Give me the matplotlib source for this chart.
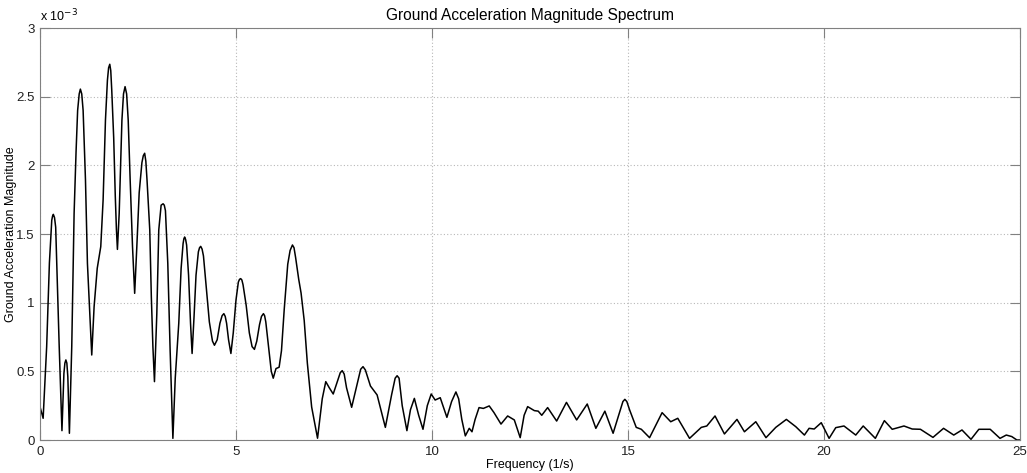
import matplotlib
matplotlib.use("Agg")
import matplotlib.pyplot as plt

# frequency (1/s) and magnitude (x 1e-3)
# low-frequency part, 0 - 7.1 Hz
freq_low = [0.00, 0.08, 0.17, 0.24, 0.30, 0.32, 0.34, 0.37, 0.40, 0.44, 0.49, 0.56,
            0.61, 0.635, 0.66, 0.685, 0.71, 0.75, 0.81, 0.87, 0.92, 0.96, 1.00, 1.03, 1.065, 1.10,
            1.16, 1.21, 1.27, 1.32, 1.38, 1.46, 1.55, 1.61, 1.67, 1.72, 1.75, 1.78, 1.805, 1.83,
            1.88, 1.92, 1.95, 1.975, 2.02, 2.09, 2.13, 2.17, 2.21, 2.25,
            2.30, 2.36, 2.415, 2.47, 2.53, 2.60, 2.635, 2.67, 2.70, 2.73, 2.80, 2.84, 2.88, 2.92,
            2.98, 3.03, 3.09, 3.14, 3.17, 3.20, 3.26, 3.32, 3.39,
            3.45, 3.54, 3.60, 3.65, 3.67, 3.69, 3.715, 3.74, 3.79, 3.84, 3.88, 3.93, 3.98, 4.04,
            4.07, 4.10, 4.135, 4.17, 4.24, 4.32, 4.40, 4.45, 4.52, 4.59, 4.645, 4.69, 4.725, 4.76,
            4.81, 4.87,
            4.93, 5.00, 5.06, 5.09, 5.12, 5.15, 5.18, 5.26, 5.34, 5.41, 5.47, 5.53, 5.60, 5.65,
            5.70, 5.73, 5.76, 5.83, 5.90, 5.95,
            6.02, 6.10, 6.16, 6.23, 6.32, 6.38, 6.44, 6.48, 6.52, 6.60, 6.66, 6.74, 6.82, 6.93, 7.08]
mag_low = [0.242, 0.158, 0.68, 1.29, 1.60, 1.63, 1.643, 1.62, 1.55, 1.165, 0.68, 0.068,
           0.485, 0.56, 0.583, 0.56, 0.46, 0.049, 0.68, 1.65, 2.10, 2.40, 2.52, 2.555, 2.52, 2.40,
           1.894, 1.286, 0.92, 0.619, 0.97, 1.25, 1.408, 1.748, 2.33, 2.62, 2.71, 2.736, 2.69, 2.55,
           2.20, 1.78, 1.53, 1.388, 1.65, 2.33, 2.52, 2.573, 2.52, 2.33,
           1.894, 1.408, 1.068, 1.408, 1.80, 2.02, 2.07, 2.088, 2.03, 1.894, 1.53, 1.044, 0.68, 0.425,
           0.92, 1.53, 1.71, 1.72, 1.71, 1.67, 1.286, 0.65, 0.012,
           0.45, 0.85, 1.25, 1.43, 1.465, 1.478, 1.46, 1.42, 1.20, 0.85, 0.63, 0.90, 1.20, 1.37,
           1.40, 1.41, 1.39, 1.34, 1.12, 0.86, 0.72, 0.69, 0.73, 0.85, 0.905, 0.92, 0.90, 0.85,
           0.73, 0.63,
           0.78, 1.02, 1.15, 1.17, 1.175, 1.165, 1.13, 0.98, 0.78, 0.68, 0.66, 0.72, 0.84, 0.90,
           0.92, 0.905, 0.86, 0.68, 0.50, 0.45,
           0.52, 0.53, 0.65, 0.95, 1.28, 1.38, 1.42, 1.40, 1.33, 1.17, 1.07, 0.87, 0.56, 0.24, 0.013]

# high-frequency part, 7.2 - 25 Hz
freq_high = [7.20, 7.29, 7.38, 7.48, 7.60, 7.66, 7.71, 7.76, 7.82, 7.95, 8.10, 8.18, 8.24, 8.30,
             8.43, 8.60, 8.81, 8.97, 9.06, 9.11, 9.16, 9.24, 9.36,
             9.45, 9.55, 9.66, 9.77, 9.88, 9.98, 10.08, 10.21, 10.38, 10.50, 10.61, 10.68, 10.76,
             10.85, 10.95, 11.02, 11.10, 11.20, 11.31, 11.46, 11.58, 11.76, 11.93, 12.10, 12.25,
             12.35, 12.44, 12.61, 12.71, 12.80, 12.95, 13.18, 13.43, 13.69, 13.96, 14.18, 14.41,
             14.62, 14.87, 14.92, 14.97, 15.04,
             15.21, 15.34, 15.55, 15.87, 16.09, 16.27, 16.57, 16.87, 17.01, 17.22,
             17.46, 17.78, 17.97, 18.26, 18.52, 18.77, 19.04, 19.28, 19.50, 19.62,
             19.75, 19.93, 20.13, 20.30, 20.51, 20.81, 21.00, 21.31, 21.54, 21.74,
             22.04, 22.25, 22.46, 22.78, 23.05, 23.31, 23.52, 23.75, 23.95, 24.24,
             24.49, 24.65, 24.79, 24.92, 25.00]
mag_high = [0.30, 0.425, 0.38, 0.335, 0.44, 0.49, 0.505, 0.48, 0.38, 0.238, 0.42, 0.515, 0.534, 0.51,
            0.393, 0.328, 0.092, 0.33, 0.45, 0.468, 0.45, 0.25, 0.068,
            0.22, 0.303, 0.18, 0.078, 0.25, 0.335, 0.291, 0.308, 0.165, 0.28, 0.35, 0.30, 0.15,
            0.03, 0.085, 0.06, 0.15, 0.236, 0.23, 0.248, 0.20, 0.116, 0.175, 0.146, 0.017,
            0.18, 0.243, 0.214, 0.21, 0.18, 0.236, 0.138, 0.274, 0.146, 0.262, 0.085, 0.21,
            0.049, 0.28, 0.296, 0.28, 0.22,
            0.092, 0.078, 0.017, 0.199, 0.133, 0.158, 0.012, 0.092, 0.102, 0.175,
            0.044, 0.15, 0.06, 0.133, 0.017, 0.092, 0.15, 0.097, 0.036, 0.085,
            0.08, 0.126, 0.012, 0.09, 0.102, 0.036, 0.102, 0.012, 0.141, 0.078,
            0.102, 0.08, 0.078, 0.019, 0.085, 0.036, 0.073, 0.005, 0.078, 0.078,
            0.012, 0.036, 0.025, 0.0, 0.0]

xticks = [0, 5, 10, 15, 20, 25]
yticks = [0, 0.5, 1, 1.5, 2, 2.5, 3]
ytick_labels = ["0", "0.5", "1", "1.5", "2", "2.5", "3"]

plt.rcParams['font.family'] = ['Liberation Sans', 'DejaVu Sans']

fig = plt.figure(figsize=(10.27, 4.73), dpi=100)
ax = fig.add_axes([40 / 1027, 33 / 473, 980 / 1027, 412 / 473])

ax.plot(freq_low + freq_high, mag_low + mag_high, color='black', lw=1.1)

ax.set_xlim(0, 25)
ax.set_ylim(0, 3)
ax.set_xticks(xticks)
ax.set_yticks(yticks)
ax.set_yticklabels(ytick_labels)

ax.grid(True, color='#b8b8b8', linestyle=(0, (1, 2)), lw=0.8)
ax.tick_params(direction='in', length=7, width=0.8, color='#808080',
               labelsize=9.5, labelcolor='#202020', top=True, right=True,
               pad=4)
for sp in ax.spines.values():
    sp.set_color('#808080')
    sp.set_linewidth(0.8)

ax.set_title('Ground Acceleration Magnitude Spectrum', fontsize=11.2, pad=6)
ax.set_xlabel('Frequency (1/s)', fontsize=9, labelpad=1)
ax.set_ylabel('Ground Acceleration Magnitude', fontsize=9)
ax.yaxis.set_label_coords(-0.0235, 0.5)
ax.text(0, 1.008, r'x 10$^{-3}$', transform=ax.transAxes, fontsize=9,
        ha='left', va='bottom')

plt.savefig('out.png', dpi=100)
